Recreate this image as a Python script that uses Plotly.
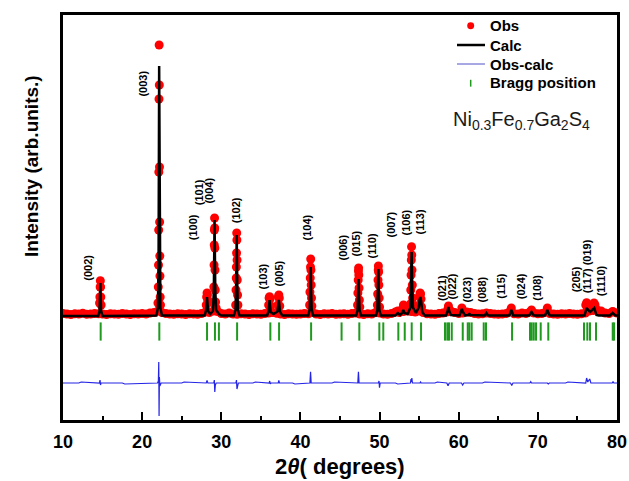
import plotly.graph_objects as go

FONT = "Liberation Sans, Arial, sans-serif"

# ---------------- data ----------------
obs_bg_2theta = [
    10.0, 10.5, 11.0, 11.5, 12.0, 12.5, 13.0, 13.5, 14.0, 14.5,
    15.0, 15.5, 16.0, 16.5, 17.0, 17.5, 18.0, 18.5, 19.0, 19.5,
    20.0, 20.5, 21.0, 21.5, 22.0, 22.5, 23.0, 23.5, 24.0, 24.5,
    25.0, 25.5, 26.0, 26.5, 27.0, 27.5, 28.0, 28.5, 29.0, 29.5,
    30.0, 30.5, 31.0, 31.5, 32.0, 32.5, 33.0, 33.5, 34.0, 34.5,
    35.0, 35.5, 36.0, 36.5, 37.0, 37.5, 38.0, 38.5, 39.0, 39.5,
    40.0, 40.5, 41.0, 41.5, 42.0, 42.5, 43.0, 43.5, 44.0, 44.5,
    45.0, 45.5, 46.0, 46.5, 47.0, 47.5, 48.0, 48.5, 49.0, 49.5,
    50.0, 50.5, 51.0, 51.5, 52.0, 52.5, 53.0, 53.5, 54.0, 54.5,
    55.0, 55.5, 56.0, 56.5, 57.0, 57.5, 58.0, 58.5, 59.0, 59.5,
    60.0, 60.5, 61.0, 61.5, 62.0, 62.5, 63.0, 63.5, 64.0, 64.5,
    65.0, 65.5, 66.0, 66.5, 67.0, 67.5, 68.0, 68.5, 69.0, 69.5,
    70.0, 70.5, 71.0, 71.5, 72.0, 72.5, 73.0, 73.5, 74.0, 74.5,
    75.0, 75.5, 76.0, 76.5, 77.0, 77.5, 78.0, 78.5, 79.0, 79.5,
    80.0,
]
obs_bg_int = [
    2130, 2120, 2110, 2125, 2120, 2135, 2115, 2120, 2130, 2125,
    2120, 2110, 2125, 2120, 2115, 2130, 2120, 2110, 2125, 2120,
    2130, 2120, 2140, 2150, 2180, 2150, 2130, 2120, 2115, 2125,
    2120, 2110, 2125, 2120, 2115, 2130, 2160, 2150, 2180, 2170,
    2130, 2120, 2140, 2120, 2115, 2125, 2120, 2110, 2125, 2120,
    2115, 2130, 2140, 2150, 2135, 2120, 2110, 2125, 2120, 2115,
    2120, 2130, 2125, 2150, 2120, 2110, 2125, 2120, 2130, 2115,
    2120, 2125, 2115, 2130, 2140, 2120, 2110, 2125, 2120, 2150,
    2140, 2120, 2115, 2130, 2160, 2150, 2170, 2180, 2170, 2160,
    2180, 2150, 2125, 2120, 2115, 2130, 2140, 2160, 2180, 2150,
    2130, 2140, 2160, 2150, 2130, 2120, 2125, 2140, 2130, 2120,
    2115, 2120, 2130, 2180, 2125, 2120, 2140, 2130, 2160, 2140,
    2125, 2130, 2160, 2130, 2120, 2115, 2125, 2120, 2130, 2120,
    2115, 2125, 2140, 2180, 2190, 2200, 2180, 2140, 2130, 2160,
    2140,
]

obs_pk_2theta = [
    14.62, 14.66, 14.69, 14.72, 14.75, 14.78, 14.82,
    22.00, 22.04, 22.07, 22.09, 22.11, 22.13, 22.15, 22.17, 22.19, 22.21, 22.23, 22.25, 22.28, 22.32,
    28.10, 28.15, 28.20, 28.25, 28.30,
    29.02, 29.06, 29.09, 29.11, 29.13, 29.15, 29.17, 29.19, 29.21, 29.24, 29.28, 29.35,
    31.82, 31.86, 31.89, 31.91, 31.93, 31.95, 31.97, 31.99, 32.02, 32.06, 32.10,
    35.98, 36.04, 36.10, 36.16, 36.22,
    37.15, 37.21, 37.27, 37.33, 37.39,
    41.16, 41.20, 41.24, 41.27, 41.30, 41.33, 41.36, 41.40, 41.45,
    47.22, 47.26, 47.30, 47.33, 47.35, 47.38, 47.41, 47.45, 47.50,
    49.72, 49.76, 49.80, 49.83, 49.85, 49.88, 49.91, 49.95, 50.00,
    52.30, 52.95, 53.02, 53.09,
    53.90, 53.94, 53.98, 54.01, 54.04, 54.07, 54.10, 54.14, 54.18, 54.24,
    55.00, 55.06, 55.12, 55.18, 55.24, 55.30,
    58.64, 58.70, 58.76,
    60.40, 66.65, 69.20, 71.20,
    76.05, 76.16, 76.30, 76.95, 77.10, 77.22,
    79.45,
]
obs_pk_int = [
    2340, 2460, 2660, 2786, 2660, 2460, 2300,
    2340, 2660, 3100, 3800, 4960, 6420, 7500, 6700, 5060, 3960, 3280, 2880, 2460, 2300,
    2300, 2460, 2540, 2500, 2400,
    2340, 2660, 3100, 3500, 3800, 4040, 3840, 3440, 3000, 2600, 2360, 2240,
    2300, 2600, 2840, 3060, 3340, 3740, 3600, 3200, 2800, 2500, 2300,
    2300, 2440, 2466, 2420, 2280,
    2300, 2460, 2500, 2440, 2280,
    2300, 2560, 2840, 3060, 3220, 3000, 2700, 2440, 2280,
    2300, 2540, 2800, 2980, 3040, 2900, 2640, 2400, 2260,
    2300, 2520, 2800, 3000, 3080, 2960, 2700, 2440, 2260,
    2180, 2240, 2300, 2220,
    2320, 2600, 2900, 3200, 3466, 3300, 3000, 2700, 2440, 2300,
    2300, 2480, 2540, 2520, 2420, 2260,
    2220, 2280, 2220,
    2240, 2240, 2200, 2240,
    2300, 2346, 2300, 2310, 2340, 2300,
    2170,
]

calc_2theta = [
    10.0,
    14.45, 14.62, 14.68, 14.72, 14.76, 14.82, 15.0,
    21.8, 22.0, 22.08, 22.15, 22.22, 22.30, 22.5,
    27.9, 28.08, 28.14, 28.2, 28.26, 28.34, 28.6, 28.95, 29.06, 29.15, 29.24, 29.35, 29.7, 30.0,
    31.6, 31.80, 31.88, 31.95, 32.02, 32.10, 32.3,
    35.8, 35.98, 36.04, 36.10, 36.16, 36.24, 36.6, 37.1, 37.20, 37.27, 37.34, 37.42, 37.7,
    41.0, 41.18, 41.25, 41.30, 41.35, 41.42, 41.6,
    47.05, 47.22, 47.30, 47.35, 47.40, 47.48, 47.65,
    49.55, 49.72, 49.80, 49.85, 49.90, 49.98, 50.15,
    52.0, 52.30, 52.6, 52.85, 53.0, 53.15, 53.55, 53.90, 53.98, 54.05, 54.12, 54.22, 54.6,
    54.95, 55.05, 55.15, 55.25, 55.40, 55.7,
    58.4, 58.6, 58.7, 58.8, 59.0,
    60.1, 60.3, 60.4, 60.5, 60.8,
    61.2, 61.35, 61.5,
    63.3, 63.5, 63.7,
    66.4, 66.55, 66.65, 66.75, 66.9,
    68.9, 69.2, 69.5,
    70.9, 71.1, 71.2, 71.3, 71.5,
    75.9, 76.16, 76.6, 77.13, 77.4, 77.7,
    79.1, 79.45, 79.8, 80.0,
]
calc_int = [
    2080,
    2080, 2180, 2450, 2740, 2450, 2180, 2080,
    2090, 2250, 3300, 7080, 3300, 2250, 2090,
    2090, 2200, 2330, 2460, 2330, 2180, 2120, 2180, 2600, 4000, 2600, 2200, 2120, 2090,
    2090, 2200, 2700, 3700, 2700, 2200, 2090,
    2090, 2180, 2300, 2400, 2300, 2160, 2120, 2170, 2300, 2400, 2300, 2170, 2090,
    2090, 2220, 2600, 3060, 2600, 2220, 2090,
    2090, 2200, 2500, 2820, 2500, 2200, 2090,
    2090, 2200, 2600, 3020, 2600, 2200, 2090,
    2090, 2140, 2100, 2140, 2200, 2140, 2120, 2250, 2700, 3360, 2700, 2250, 2140,
    2250, 2400, 2460, 2380, 2160, 2090,
    2090, 2180, 2260, 2180, 2100,
    2090, 2170, 2220, 2170, 2090,
    2100, 2120, 2100,
    2090, 2140, 2090,
    2090, 2160, 2200, 2160, 2090,
    2090, 2160, 2090,
    2090, 2160, 2200, 2160, 2090,
    2090, 2240, 2160, 2240, 2100, 2090,
    2090, 2140, 2090, 2090,
]

diff_2theta = [
    10.0, 12.0, 12.3, 14.6, 14.68, 14.74, 14.8, 17.5, 17.8,
    21.95, 22.05, 22.10, 22.14, 22.18, 22.24, 22.4, 25.0, 25.3,
    28.1, 28.2, 28.3, 29.05, 29.12, 29.18, 29.25, 29.35,
    31.85, 31.92, 31.98, 32.05, 32.15, 34.0, 34.3,
    36.05, 36.12, 36.2, 36.3, 37.2, 37.27, 37.35, 39.0, 39.3,
    41.2, 41.28, 41.36, 44.0, 44.3,
    47.25, 47.33, 47.41,
    49.85, 49.93, 49.99, 50.08, 52.0, 52.3,
    53.9, 53.97, 54.02, 54.08, 54.15,
    55.1, 55.18, 55.25, 57.0, 57.3,
    58.5, 58.65, 58.8,
    60.35, 60.5, 60.65, 63.0, 63.3,
    66.55, 66.7, 66.85,
    69.0, 69.1, 69.2,
    71.2, 71.32, 71.45, 73.5, 73.8,
    76.05, 76.16, 76.3, 76.55, 76.7,
    79.4, 79.5, 79.6, 80.0,
]
diff_int = [
    740, 740, 760, 740, 800, 700, 740, 740, 720,
    740, 780, 1160, 80, 860, 680, 740, 740, 760,
    740, 790, 740, 740, 800, 560, 700, 740,
    740, 800, 620, 720, 740, 740, 760,
    740, 780, 720, 740, 740, 790, 740, 740, 720,
    740, 966, 740, 740, 760,
    740, 966, 740,
    740, 780, 646, 740, 740, 720,
    740, 820, 760, 840, 740,
    740, 760, 740, 740, 760,
    740, 686, 740,
    740, 700, 740, 740, 760,
    740, 690, 740,
    740, 766, 740,
    740, 720, 740, 740, 760,
    740, 840, 760, 820, 740,
    740, 770, 740, 740,
]

bragg_2theta = [
    14.76, 22.17, 28.2, 29.2, 29.7, 32.0, 36.2, 37.3, 41.35, 45.2,
    47.44, 49.97, 50.47, 52.37, 53.18, 54.06, 55.24, 58.27, 58.56, 58.77,
    59.12, 60.51, 61.14, 61.34, 61.64, 63.16, 63.45, 66.74, 69.01, 69.22,
    69.48, 69.77, 70.36, 71.32, 75.83, 76.25, 76.59, 77.35, 79.46, 79.63,
]
bragg_level = 1770

hkl_labels = ["(002)", "(003)", "(100)", "(101)", "(004)", "(102)", "(103)", "(005)",
              "(104)", "(006)", "(015)", "(110)", "(007)", "(106)", "(113)", "(021)",
              "(022)", "(023)", "(088)", "(115)", "(024)", "(108)", "(205)", "(019)",
              "(117)", "(1110)"]
hkl_2theta = [13.12, 20.06, 26.45, 27.15, 28.42, 31.89, 35.21, 37.23,
              40.77, 45.32, 47.08, 49.10, 51.50, 53.40, 55.17, 57.82,
              59.20, 61.10, 63.00, 65.30, 67.90, 69.80, 74.86, 76.25,
              76.25, 78.02]
hkl_int = [3040, 6720, 3860, 4550, 4584, 4200, 2860, 2920,
           3840, 3440, 3540, 3480, 3920, 3960, 3960, 2650,
           2680, 2620, 2620, 2680, 2680, 2650, 2820, 3360,
           2780, 2780]

x_ticks = [10, 20, 30, 40, 50, 60, 70, 80]

legend_names = ["Obs", "Calc", "Obs-calc", "Bragg position"]

RED = "#ff0000"
BLUE = "#2424e6"
GREEN = "#1f9a1f"

# ---------------- figure ----------------
fig = go.Figure()

fig.add_trace(go.Scatter(
    x=obs_bg_2theta + obs_pk_2theta, y=obs_bg_int + obs_pk_int,
    mode="markers", name=legend_names[0],
    marker=dict(color=RED, size=9, line=dict(width=0)),
))
fig.add_trace(go.Scatter(
    x=calc_2theta, y=calc_int, mode="lines", name=legend_names[1],
    line=dict(color="black", width=2.5),
))
fig.add_trace(go.Scatter(
    x=diff_2theta, y=diff_int, mode="lines", name=legend_names[2],
    line=dict(color=BLUE, width=1.2),
))
fig.add_trace(go.Scatter(
    x=bragg_2theta, y=[bragg_level] * len(bragg_2theta), mode="markers",
    name=legend_names[3],
    marker=dict(symbol="line-ns", size=13, line=dict(color=GREEN, width=2)),
))

for lab, xx, yy in zip(hkl_labels, hkl_2theta, hkl_int):
    fig.add_annotation(x=xx, y=yy, xref="x", yref="y", text="<b>%s</b>" % lab,
                       showarrow=False, textangle=-90, xanchor="center", yanchor="middle",
                       font=dict(family=FONT, size=11, color="black"))

# ---- legend (drawn in paper coordinates for exact row spacing) ----
row_y = [0.9736, 0.9259, 0.8790, 0.8321]
sym_x = 0.7359
for name, ry in zip(legend_names, row_y):
    fig.add_annotation(x=0.7671, y=ry, xref="paper", yref="paper", xanchor="left",
                       yanchor="middle", text="<b>%s</b>" % name, showarrow=False,
                       font=dict(family=FONT, size=15, color="black"))
fig.add_shape(type="circle", xref="paper", yref="paper",
              x0=sym_x - 0.0063, x1=sym_x + 0.0063,
              y0=row_y[0] - 0.0086, y1=row_y[0] + 0.0086,
              fillcolor=RED, line=dict(width=0))
fig.add_shape(type="line", xref="paper", yref="paper", x0=0.7112, x1=0.7617,
              y0=row_y[1], y1=row_y[1], line=dict(color="black", width=2.5))
fig.add_shape(type="line", xref="paper", yref="paper", x0=0.7112, x1=0.7617,
              y0=row_y[2], y1=row_y[2], line=dict(color="#5050c8", width=1))
fig.add_shape(type="line", xref="paper", yref="paper", x0=sym_x, x1=sym_x,
              y0=row_y[3] - 0.009, y1=row_y[3] + 0.008, line=dict(color=GREEN, width=1.5))

fig.add_annotation(x=0.827, y=0.74, xref="paper", yref="paper",
                   xanchor="center", yanchor="middle",
                   text="Ni<sub>0.3</sub>Fe<sub>0.7</sub>Ga<sub>2</sub>S<sub>4</sub>",
                   showarrow=False, font=dict(family=FONT, size=20, color="#1a1a1a"))

fig.add_annotation(x=-0.058, y=0.627, xref="paper", yref="paper",
                   xanchor="center", yanchor="middle",
                   text="<b>Intensity (arb.units.)</b>", showarrow=False, textangle=-90,
                   font=dict(family=FONT, size=19, color="black"))
fig.add_annotation(x=0.5, y=-0.114, xref="paper", yref="paper",
                   xanchor="center", yanchor="middle",
                   text="<b>2<i>θ</i>( degrees)</b>", showarrow=False,
                   font=dict(family=FONT, size=22, color="black"))

fig.update_layout(
    width=629, height=481, autosize=False,
    margin=dict(l=63, r=12, t=15, b=61, pad=0, autoexpand=False),
    paper_bgcolor="white", plot_bgcolor="white",
    showlegend=False,
    xaxis=dict(range=[10, 80], tickvals=x_ticks, ticks="inside", ticklen=8, tickwidth=2,
               tickcolor="black", showline=True, linecolor="black", linewidth=2.5,
               mirror=True, showgrid=False, zeroline=False, automargin=False,
               ticklabelstandoff=4,
               tickfont=dict(family=FONT, size=18, color="black", weight="bold"),
               minor=dict(ticks="inside", ticklen=4, tickwidth=2, tickcolor="black",
                          dtick=5, tick0=5, showgrid=False)),
    yaxis=dict(range=[0, 8100], showticklabels=False, ticks="", showline=True,
               linecolor="black", linewidth=2.5, mirror=True, showgrid=False,
               zeroline=False, automargin=False),
)

fig.write_html("out.html", config={"displayModeBar": False},
               post_script="document.body.style.margin='0';document.body.style.overflow='hidden';")
